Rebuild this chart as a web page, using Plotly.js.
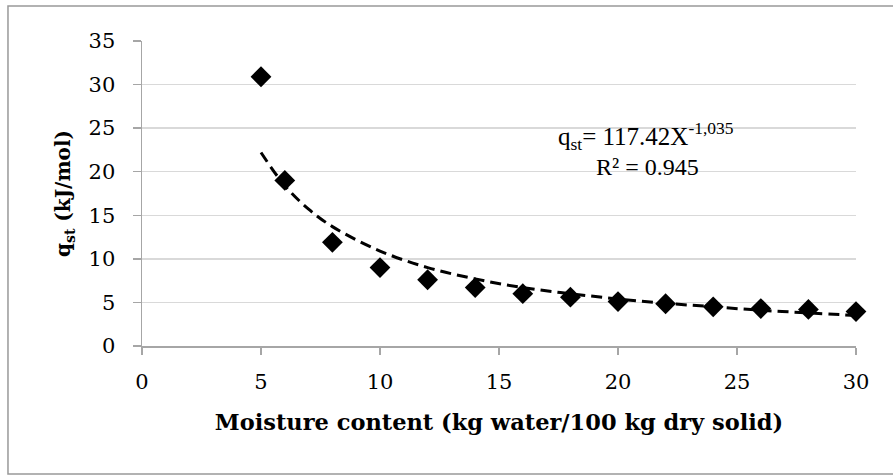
<!DOCTYPE html>
<html><head><meta charset="utf-8">
<script src="https://cdn.plot.ly/plotly-3.0.1.min.js"></script>
<style>html,body{margin:0;padding:0;background:#fff;}#chart{width:893px;height:475px;}</style>
</head><body><div id="chart"></div>
<script>
// Data
const moisture = [5, 6, 8, 10, 12, 14, 16, 18, 20, 22, 24, 26, 28, 30];
const qst = [30.9, 19.0, 11.9, 9.0, 7.6, 6.7, 6.0, 5.6, 5.1, 4.85, 4.5, 4.3, 4.2, 3.95];
// Power trendline values (qst = 117.42 X^-1.035)
const trendX = [5, 6, 7, 8, 10, 12, 14, 16, 18, 20, 22, 24, 26, 28, 30];
const trendY = [22.2, 18.4, 15.7, 13.7, 10.9, 9.0, 7.7, 6.7, 6.0, 5.4, 4.9, 4.5, 4.1, 3.8, 3.5];
const xTicks = [0, 5, 10, 15, 20, 25, 30];
const yTicks = [0, 5, 10, 15, 20, 25, 30, 35];

const serif = '"DejaVu Serif", serif';
const traces = [
  {x: trendX, y: trendY, type: 'scatter', mode: 'lines',
   line: {color: '#000', width: 3, dash: '11px,6px', shape: 'spline'}, showlegend: false},
  {x: moisture, y: qst, type: 'scatter', mode: 'markers',
   marker: {symbol: 'diamond', size: 16, color: '#000'}, showlegend: false, cliponaxis: false}
];
const layout = {
  width: 893, height: 475,
  margin: {l: 142, r: 37, t: 41, b: 129},
  paper_bgcolor: '#fff', plot_bgcolor: '#fff',
  xaxis: {range: [0, 30], tickvals: xTicks, ticktext: xTicks.map(String),
    showgrid: false, zeroline: false, showline: true, linecolor: '#a6a6a6', linewidth: 1.5,
    ticks: 'outside', ticklen: 7, tickcolor: '#a6a6a6', tickwidth: 1.5,
    ticklabelstandoff: 9,
    tickfont: {family: serif, size: 21, color: '#000'},
    title: {text: '<b>Moisture content (kg water/100 kg dry solid)</b>', standoff: 21,
      font: {family: serif, size: 22.5, color: '#000'}}},
  yaxis: {range: [0, 35], tickvals: yTicks, ticktext: yTicks.map(String),
    showgrid: true, gridcolor: '#d9d9d9', gridwidth: 1.3, zeroline: false,
    showline: true, linecolor: '#a6a6a6', linewidth: 1.5,
    ticks: 'outside', ticklen: 8, tickcolor: '#a6a6a6', tickwidth: 1.5,
    ticklabelstandoff: 13,
    tickfont: {family: serif, size: 21, color: '#000'},
    title: {text: '<b>q<sub>st</sub> (kJ/mol)</b>', standoff: 12,
      font: {family: serif, size: 20, color: '#000'}}},
  annotations: [
    {xref: 'paper', yref: 'paper', x: 0.706, y: 0.69, xanchor: 'center', yanchor: 'middle', showarrow: false,
     text: 'q<sub>st</sub>= 117.42X<sup>-1,035</sup>',
     font: {family: '"Liberation Serif", serif', size: 25, color: '#000'}},
    {xref: 'paper', yref: 'paper', x: 0.708, y: 0.587, xanchor: 'center', yanchor: 'middle', showarrow: false,
     text: 'R² = 0.945',
     font: {family: '"Liberation Serif", serif', size: 24, color: '#000'}}
  ],
  shapes: [
    {type: 'path', xref: 'paper', yref: 'paper',
     path: 'M 1.2 1.1148 L -0.1877 1.1148 L -0.1877 -0.4197 L 1.2 -0.4197',
     line: {color: '#999999', width: 1.5}, fillcolor: 'rgba(0,0,0,0)', layer: 'below'}
  ]
};
Plotly.newPlot('chart', traces, layout, {displayModeBar: false, staticPlot: true});
</script></body></html>
